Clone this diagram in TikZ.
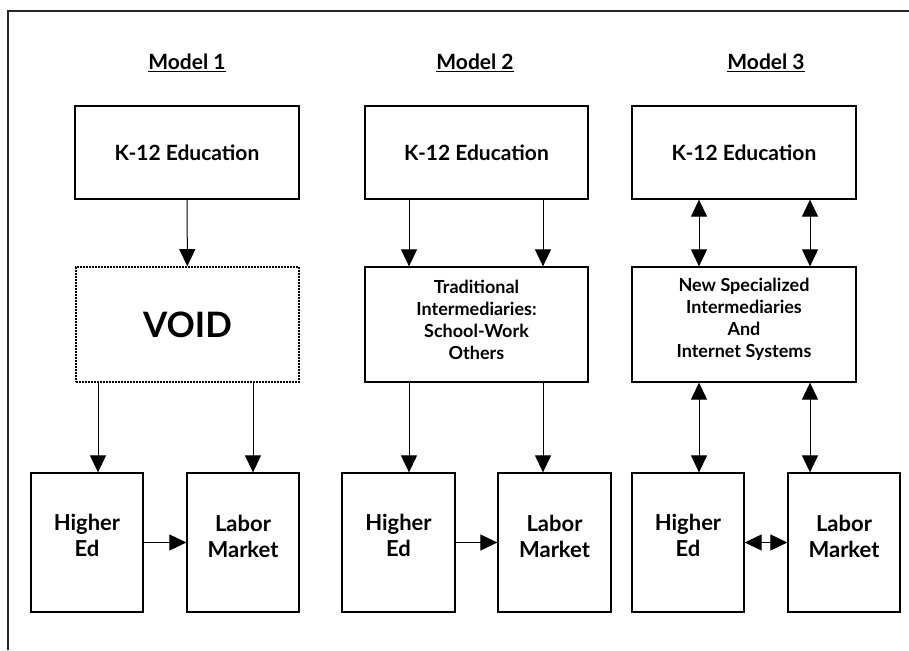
\documentclass[tikz,border=0pt]{standalone}
\usepackage{fontspec}
\setmainfont{Lato}
\usetikzlibrary{arrows.meta}

\begin{document}
\begin{tikzpicture}[x=1pt, y=-1pt,
  box/.style={draw, line width=1.3pt, inner sep=0pt},
  voidbox/.style={box, dash pattern=on 1.6pt off 1.4pt, line width=1.6pt},
  midtext/.style={align=center, font=\fontsize{18}{22}\selectfont\bfseries},
  lowtext/.style={align=center, font=\fontsize{22}{26}\selectfont\bfseries},
  ktext/.style={font=\fontsize{21}{24}\selectfont\bfseries},
  arr/.style={line width=1pt, -{Triangle[width=16pt, length=17pt]}},
  darr/.style={line width=1pt, {Triangle[width=16pt, length=17pt]}-{Triangle[width=16pt, length=17pt]}},
  title/.style={font=\fontsize{21}{24}\selectfont\bfseries}]
\useasboundingbox (0,0) rectangle (909,650);
% frame
\draw[line width=1.6pt, black!85] (8,650) -- (8,11) -- (909,11);
% Model 1
\node[title] (t1) at (187,63) {\underline{Model 1}};
\node[box, ktext, minimum width=224pt, minimum height=93pt] (k1) at (187,152.5) {K-12 Education};
\node[voidbox, minimum width=223pt, minimum height=115pt, font=\fontsize{35}{40}\selectfont\bfseries] (void1) at (187.5,324.5) {VOID};
\node[box, minimum width=112pt, minimum height=139pt] (he1) at (87,542.5) {};
\node[box, minimum width=112pt, minimum height=139pt] (lm1) at (243,542.5) {};
\node[lowtext] (he1t) at ([yshift=7pt]he1.center) {Higher\\Ed};
\node[lowtext] (lm1t) at ([yshift=6pt]lm1.center) {Labor\\Market};
\coordinate (a1) at (98,0);
\coordinate (b1) at (253,0);
\draw[arr] (k1) -- (void1);
\draw[arr] (void1.south -| a1) -- (he1.north -| a1);
\draw[arr] (void1.south -| b1) -- (lm1.north -| b1);
\draw[arr] (he1) -- (lm1);
% Model 2
\node[title] (t2) at (475,63) {\underline{Model 2}};
\node[box, ktext, minimum width=223pt, minimum height=93pt] (k2) at (476.5,152.5) {K-12 Education};
\node[box, minimum width=223pt, minimum height=115pt] (trad2) at (476.5,324.5) {};
\node[midtext] (trad2t) at ([yshift=5pt]trad2.center) {Traditional\\Intermediaries:\\School-Work\\Others};
\node[box, minimum width=113pt, minimum height=139pt] (he2) at (398.5,542.5) {};
\node[box, minimum width=113pt, minimum height=139pt] (lm2) at (554.5,542.5) {};
\node[lowtext] (he2t) at ([yshift=7pt]he2.center) {Higher\\Ed};
\node[lowtext] (lm2t) at ([yshift=6pt]lm2.center) {Labor\\Market};
\coordinate (a2) at (409,0);
\coordinate (b2) at (543,0);
\draw[arr] (k2.south -| a2) -- (trad2.north -| a2);
\draw[arr] (k2.south -| b2) -- (trad2.north -| b2);
\draw[arr] (trad2.south -| a2) -- (he2.north -| a2);
\draw[arr] (trad2.south -| b2) -- (lm2.north -| b2);
\draw[arr] (he2) -- (lm2);
% Model 3
\node[title] (t3) at (766,63) {\underline{Model 3}};
\node[box, ktext, minimum width=224pt, minimum height=93pt] (k3) at (744,152.5) {K-12 Education};
\node[box, minimum width=224pt, minimum height=115pt] (int3) at (744,324.5) {};
\node[midtext] (int3t) at ([yshift=5pt]int3.center) {New Specialized\\Intermediaries\\And\\Internet Systems};
\node[box, minimum width=112pt, minimum height=139pt] (he3) at (688,542.5) {};
\node[box, minimum width=112pt, minimum height=139pt] (lm3) at (844,542.5) {};
\node[lowtext] (he3t) at ([yshift=7pt]he3.center) {Higher\\Ed};
\node[lowtext] (lm3t) at ([yshift=6pt]lm3.center) {Labor\\Market};
\coordinate (a3) at (699,0);
\coordinate (b3) at (810,0);
\draw[darr] (k3.south -| a3) -- (int3.north -| a3);
\draw[darr] (k3.south -| b3) -- (int3.north -| b3);
\draw[darr] (int3.south -| a3) -- (he3.north -| a3);
\draw[darr] (int3.south -| b3) -- (lm3.north -| b3);
\draw[darr] (he3) -- (lm3);
\end{tikzpicture}
\end{document}
